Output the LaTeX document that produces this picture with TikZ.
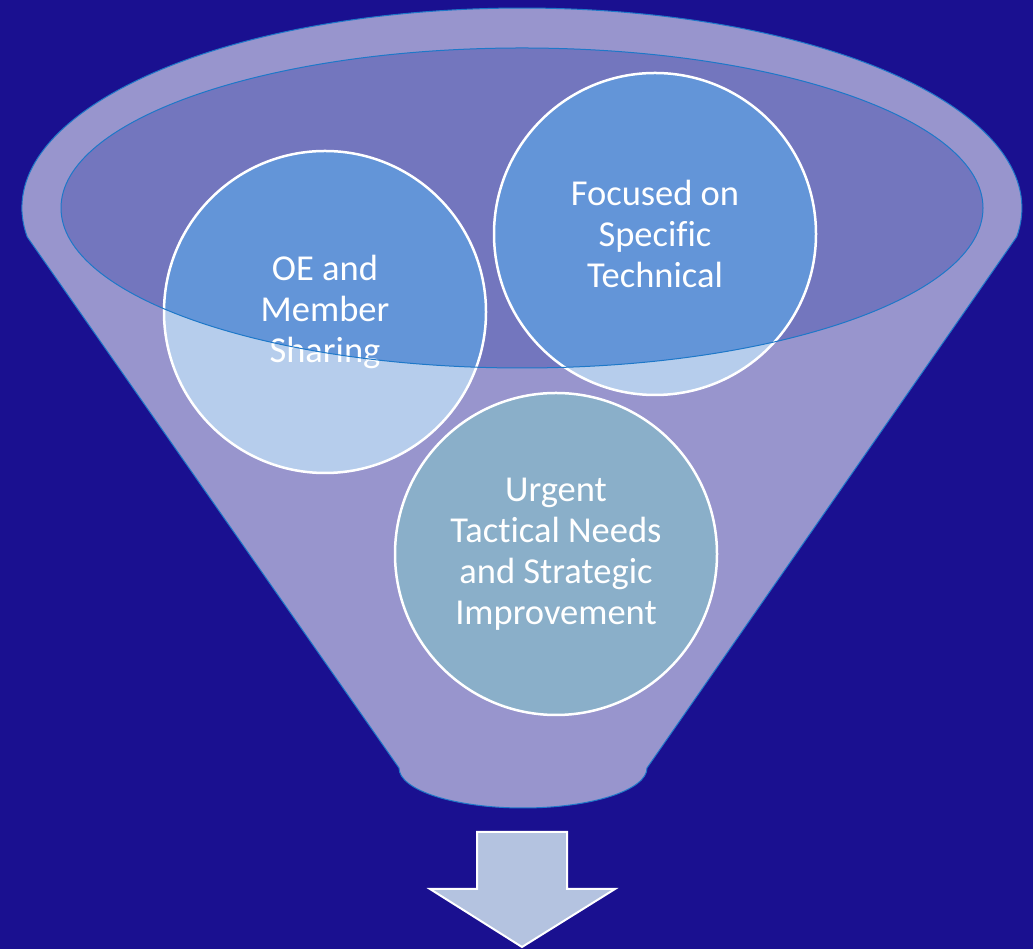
\documentclass[tikz,border=0pt]{standalone}
\usepackage{fontspec}
\setmainfont{Carlito}[Ligatures=NoCommon]
\definecolor{bgc}{HTML}{1A1090}
\definecolor{funnelc}{HTML}{9895CD}
\definecolor{innerc}{HTML}{7376BE}
\definecolor{edgec}{HTML}{1E78C8}
\definecolor{lightc}{HTML}{B6CDEC}
\definecolor{darkc}{HTML}{6395D8}
\definecolor{bottomc}{HTML}{8AAFC9}
\definecolor{arrowc}{HTML}{B4C3E0}
\tikzset{
  bubble/.style={circle, minimum size=322pt, inner sep=0pt},
  bubbletext/.style={text=white, align=center, font=\fontsize{36.5}{41}\selectfont},
  ring/.style={draw=white, line width=2.5pt},
}
\begin{document}
\begin{tikzpicture}[x=1pt,y=1pt]
\useasboundingbox (0,0) rectangle (1033,949);
\fill[bgc] (0,0) rectangle (1033,949);
% funnel body
\draw[fill=funnelc, draw=edgec, line width=1pt]
  (27.2,712.1) arc[start angle=188.3, end angle=-8.3, x radius=500, y radius=200]
  -- (647,181) arc[start angle=0, end angle=-180, x radius=124, y radius=40]
  -- cycle;
% inner ellipse fill
\fill[innerc] (522,741) ellipse[x radius=461, y radius=160];
% circles
\node[bubble, fill=lightc] (oe) at (325,637) {};
\node[bubble, fill=lightc] (ft) at (655,715) {};
\node[bubble, fill=bottomc] (ut) at (556,395) {};
\begin{scope}
  \clip (522,741) ellipse[x radius=461, y radius=160];
  \fill[darkc] (oe.center) circle[radius=161];
  \fill[darkc] (ft.center) circle[radius=161];
\end{scope}
\draw[ring] (oe.center) circle[radius=161];
\draw[ring] (ft.center) circle[radius=161];
\draw[ring] (ut.center) circle[radius=161];
% texts
\node[bubbletext] (oet) at (oe.center) {OE and\\Member\\Sharing};
\node[bubbletext] (ftt) at (ft.center) {Focused on\\Specific\\Technical};
\node[bubbletext] (utt) at (ut.center) {Urgent\\Tactical Needs\\and Strategic\\Improvement};
% inner ellipse outline
\draw[edgec, line width=1pt] (522,741) ellipse[x radius=461, y radius=160];
% arrow
\coordinate (tip) at (522,2);
\draw[fill=arrowc, draw=white, line width=2pt, line join=miter]
  (477,117) -- (567,117) -- (567,60) -- (615,60) -- (tip) -- (430,60) -- (477,60) -- cycle;
\end{tikzpicture}
\end{document}
